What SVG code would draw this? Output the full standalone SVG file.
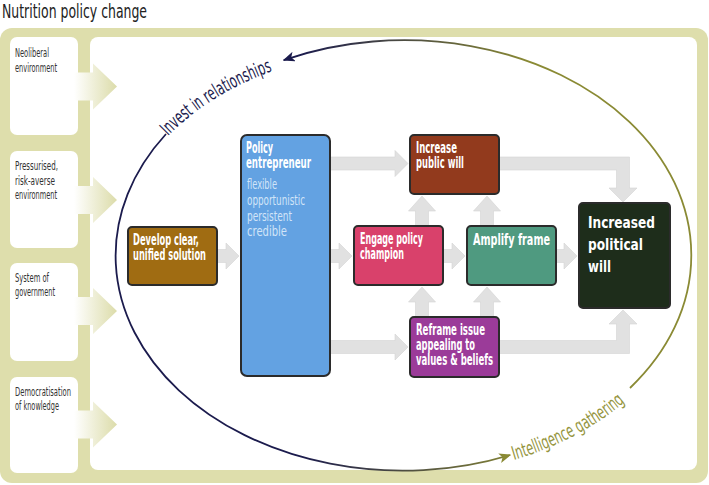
<svg xmlns="http://www.w3.org/2000/svg" width="709" height="485" viewBox="0 0 709 485">
<style>
.f{font-family:"DejaVu Sans Condensed","DejaVu Sans",sans-serif;font-stretch:condensed}
.lt{font-size:12px;fill:#333}
.bt{font-size:15px;font-weight:bold;fill:#fff}
.at{font-size:14px;fill:#d2e5f8}
.box{stroke:#2b2b2b;stroke-width:2}
.lb{fill:#fff}
.ga{fill:#e1e1e1;stroke:#d3d3d3;stroke-width:0.6}
.la{fill:url(#lg)}
</style>
<defs>
<linearGradient id="lg" gradientUnits="userSpaceOnUse" x1="74" y1="0" x2="117" y2="0">
<stop offset="0" stop-color="#ffffff"/>
<stop offset="1" stop-color="#dcdcaa"/>
</linearGradient>
<linearGradient id="eg" gradientUnits="userSpaceOnUse" x1="300" y1="0" x2="530" y2="0">
<stop offset="0" stop-color="#1b1b4d"/>
<stop offset="1" stop-color="#8a8a34"/>
</linearGradient>
<marker id="mn" viewBox="0 0 12 10" refX="11" refY="5" markerWidth="12" markerHeight="10" markerUnits="userSpaceOnUse" orient="auto">
<path d="M0,0 L12,5 L0,10 L3,5 z" fill="#1b1b4d"/>
</marker>
<marker id="mo" viewBox="0 0 12 10" refX="11" refY="5" markerWidth="12" markerHeight="10" markerUnits="userSpaceOnUse" orient="auto">
<path d="M0,0 L12,5 L0,10 L3,5 z" fill="#8a8a34"/>
</marker>
<path id="tp1" d="M168,136 A280 208 0 0 1 310,60"/>
<path id="tp2" d="M514,460 A294 222 0 0 0 660,366"/>
</defs>

<text class="f" x="2" y="18" font-size="20" fill="#222" textLength="145" lengthAdjust="spacingAndGlyphs">Nutrition policy change</text>

<g id="frame">
<rect x="0" y="28" width="708" height="455" rx="12" fill="#dedeac"/>
<rect x="90" y="37" width="607" height="433" rx="8" fill="#fff"/>
</g>

<g id="context">
<g id="neoliberal">
<rect class="lb" x="10" y="37" width="68" height="98" rx="7"/>
<text class="f lt" x="15" y="57" textLength="34" lengthAdjust="spacingAndGlyphs">Neoliberal</text>
<text class="f lt" x="15" y="72" textLength="42" lengthAdjust="spacingAndGlyphs">environment</text>
</g>
<g id="pressurised">
<rect class="lb" x="10" y="151" width="68" height="97" rx="7"/>
<text class="f lt" x="15" y="170" textLength="43" lengthAdjust="spacingAndGlyphs">Pressurised,</text>
<text class="f lt" x="15" y="184.5" textLength="40" lengthAdjust="spacingAndGlyphs">risk-averse</text>
<text class="f lt" x="15" y="199" textLength="42" lengthAdjust="spacingAndGlyphs">environment</text>
</g>
<g id="system">
<rect class="lb" x="10" y="263" width="68" height="98" rx="7"/>
<text class="f lt" x="15" y="282" textLength="34" lengthAdjust="spacingAndGlyphs">System of</text>
<text class="f lt" x="15" y="296" textLength="40" lengthAdjust="spacingAndGlyphs">government</text>
</g>
<g id="democratisation">
<rect class="lb" x="10" y="377" width="68" height="96" rx="7"/>
<text class="f lt" x="15" y="396" textLength="56" lengthAdjust="spacingAndGlyphs">Democratisation</text>
<text class="f lt" x="15" y="410" textLength="44" lengthAdjust="spacingAndGlyphs">of knowledge</text>
</g>
</g>

<g id="context-arrows">
<polygon class="la" points="72,72.5 93,72.5 93,63.5 117,86.5 93,109.5 93,100.5 72,100.5"/>
<polygon class="la" points="72,186 93,186 93,177 117,200 93,223 93,214 72,214"/>
<polygon class="la" points="72,297 93,297 93,288 117,311 93,334 93,325 72,325"/>
<polygon class="la" points="72,410.5 93,410.5 93,401.5 117,424.5 93,447.5 93,438.5 72,438.5"/>
</g>

<g id="cycle">
<path d="M630,388 A287 215 0 0 0 283.7,60.1" fill="none" stroke="url(#eg)" stroke-width="1.8" marker-end="url(#mn)"/>
<path d="M166,134 A287 215 0 0 0 510.2,455" fill="none" stroke="url(#eg)" stroke-width="1.8" marker-end="url(#mo)"/>
<text class="f" font-size="19" fill="#1b1b4d"><textPath href="#tp1" textLength="124" lengthAdjust="spacingAndGlyphs">Invest in relationships</textPath></text>
<text class="f" font-size="19" fill="#959540"><textPath href="#tp2" textLength="126" lengthAdjust="spacingAndGlyphs">Intelligence gathering</textPath></text>
</g>

<g id="connectors">
<polygon class="ga" points="217,249.5 226,249.5 226,243 239,256 226,269 226,262.5 217,262.5"/>
<polygon class="ga" points="330,249.5 339,249.5 339,243 352,256 339,269 339,262.5 330,262.5"/>
<polygon class="ga" points="330,157 395,157 395,150.5 408,163.5 395,176.5 395,170 330,170"/>
<polygon class="ga" points="330,340.5 395,340.5 395,334 408,347 395,360 395,353.5 330,353.5"/>
<polygon class="ga" points="443,249.5 452,249.5 452,243 465,256 452,269 452,262.5 443,262.5"/>
<polygon class="ga" points="556,249.5 564,249.5 564,243 577,256 564,269 564,262.5 556,262.5"/>
<polygon class="ga" points="415.5,226 415.5,211 408.5,211 422,196 435.5,211 428.5,211 428.5,226"/>
<polygon class="ga" points="480.5,226 480.5,211 473.5,211 487,196 500.5,211 493.5,211 493.5,226"/>
<polygon class="ga" points="415.5,317 415.5,302 408.5,302 422,287 435.5,302 428.5,302 428.5,317"/>
<polygon class="ga" points="480.5,317 480.5,302 473.5,302 487,287 500.5,302 493.5,302 493.5,317"/>
<polygon class="ga" points="499,157 629.5,157 629.5,188 637,188 623,202 609,188 616.5,188 616.5,170 499,170"/>
<polygon class="ga" points="499,353.5 629.5,353.5 629.5,324 637,324 623,310 609,324 616.5,324 616.5,340.5 499,340.5"/>
</g>

<g id="develop">
<rect class="box" x="128" y="227" width="89" height="58" rx="4" fill="#a06c12"/>
<text class="f bt" x="133" y="245" textLength="66" lengthAdjust="spacingAndGlyphs">Develop clear,</text>
<text class="f bt" x="133" y="259.5" textLength="73" lengthAdjust="spacingAndGlyphs">unified solution</text>
</g>

<g id="entrepreneur">
<rect class="box" x="241" y="135" width="89" height="241" rx="6" fill="#63a2e2"/>
<text class="f bt" x="246" y="153" textLength="27" lengthAdjust="spacingAndGlyphs">Policy</text>
<text class="f bt" x="246" y="168" textLength="65" lengthAdjust="spacingAndGlyphs">entrepreneur</text>
<text class="f at" x="247" y="189" textLength="30" lengthAdjust="spacingAndGlyphs">flexible</text>
<text class="f at" x="247" y="205" textLength="58" lengthAdjust="spacingAndGlyphs">opportunistic</text>
<text class="f at" x="247" y="221" textLength="45" lengthAdjust="spacingAndGlyphs">persistent</text>
<text class="f at" x="247" y="236" textLength="40" lengthAdjust="spacingAndGlyphs">credible</text>
</g>

<g id="public-will">
<rect class="box" x="410" y="135" width="89" height="59" rx="4" fill="#923a1d"/>
<text class="f bt" x="416" y="153" textLength="41" lengthAdjust="spacingAndGlyphs">Increase</text>
<text class="f bt" x="416" y="168" textLength="48" lengthAdjust="spacingAndGlyphs">public will</text>
</g>

<g id="champion">
<rect class="box" x="354" y="226" width="89" height="59" rx="4" fill="#d9416b"/>
<text class="f bt" x="360" y="244" textLength="63" lengthAdjust="spacingAndGlyphs">Engage policy</text>
<text class="f bt" x="360" y="259" textLength="44" lengthAdjust="spacingAndGlyphs">champion</text>
</g>

<g id="amplify">
<rect class="box" x="467" y="226" width="89" height="59" rx="4" fill="#4f9a80"/>
<text class="f bt" x="473" y="245" textLength="77" lengthAdjust="spacingAndGlyphs">Amplify frame</text>
</g>

<g id="political-will">
<rect class="box" x="579" y="203" width="91" height="105" rx="4" fill="#1e2d1b"/>
<text class="f bt" x="588" y="228" font-size="22" textLength="67" lengthAdjust="spacingAndGlyphs">Increased</text>
<text class="f bt" x="588" y="250" font-size="22" textLength="55" lengthAdjust="spacingAndGlyphs">political</text>
<text class="f bt" x="588" y="272" font-size="22" textLength="23" lengthAdjust="spacingAndGlyphs">will</text>
</g>

<g id="reframe">
<rect class="box" x="410" y="317" width="89" height="60" rx="4" fill="#9b3b99"/>
<text class="f bt" x="416" y="335" textLength="69" lengthAdjust="spacingAndGlyphs">Reframe issue</text>
<text class="f bt" x="416" y="350" textLength="59" lengthAdjust="spacingAndGlyphs">appealing to</text>
<text class="f bt" x="416" y="365" textLength="77" lengthAdjust="spacingAndGlyphs">values &amp; beliefs</text>
</g>
</svg>
